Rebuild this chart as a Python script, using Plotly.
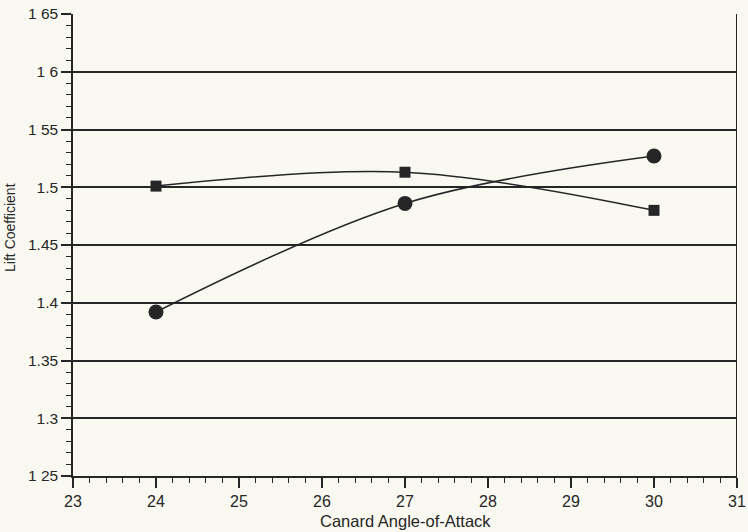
import plotly.graph_objects as go

angles = [24, 27, 30]
lift_square = [1.501, 1.513, 1.480]
lift_circle = [1.392, 1.486, 1.527]
y_tick_vals = [1.25, 1.30, 1.35, 1.40, 1.45, 1.50, 1.55, 1.60, 1.65]
y_tick_text = ["1 25", "1.3", "1.35", "1.4", "1.45", "1.5", "1 55", "1 6", "1 65"]
x_tick_vals = [23, 24, 25, 26, 27, 28, 29, 30, 31]
x_title = "Canard Angle-of-Attack"
y_title = "Lift Coefficient"

ink = "#262626"
bg = "#f9f9f1"
fig = go.Figure()
fig.add_trace(go.Scatter(
    x=angles, y=lift_square, mode="lines+markers",
    line=dict(color=ink, width=1.5, shape="spline", smoothing=1.0),
    marker=dict(symbol="square", size=11, color=ink),
    showlegend=False))
fig.add_trace(go.Scatter(
    x=angles, y=lift_circle, mode="lines+markers",
    line=dict(color=ink, width=1.5, shape="spline", smoothing=1.0),
    marker=dict(symbol="circle", size=15, color=ink),
    showlegend=False))

fig.update_layout(
    width=748, height=532,
    margin=dict(l=73, r=11, t=14, b=56),
    paper_bgcolor=bg, plot_bgcolor=bg,
    font=dict(family="Liberation Sans, Arial, sans-serif", size=15, color=ink),
    xaxis=dict(
        range=[23, 31], tickvals=x_tick_vals, ticks="outside", ticklen=10,
        tickcolor=ink, tickwidth=1.5, showgrid=False, zeroline=False,
        showline=True, linecolor=ink, linewidth=1.5, automargin=False,
        tickfont=dict(size=16),
        minor=dict(dtick=0.2, ticks="outside", ticklen=5, tickcolor=ink, tickwidth=1.2, showgrid=False),
    ),
    yaxis=dict(
        range=[1.25, 1.65], tickvals=y_tick_vals, ticktext=y_tick_text,
        ticks="outside", ticklen=10, tickcolor=ink, tickwidth=1.5,
        showgrid=True, gridcolor=ink, gridwidth=1.5, zeroline=False,
        showline=True, linecolor=ink, linewidth=1.5, automargin=False,
        tickfont=dict(size=15.5),
        minor=dict(dtick=0.01, ticks="outside", ticklen=5, tickcolor=ink, tickwidth=1.2, showgrid=False),
    ),
)
fig.add_shape(type="line", xref="x", yref="paper", x0=31, x1=31, y0=0, y1=1,
              line=dict(color=ink, width=2))
fig.add_annotation(text=x_title, xref="paper", yref="paper", x=0.5, y=-0.097,
                   xanchor="center", yanchor="middle", showarrow=False,
                   font=dict(size=16.5, color=ink))
fig.add_annotation(text=y_title, xref="paper", yref="paper", x=-0.095, y=0.5,
                   yshift=18, xanchor="center", yanchor="middle", showarrow=False,
                   textangle=-90, font=dict(size=14, color=ink))
fig.write_html("out.html", config={"displayModeBar": False},
               post_script="document.body.style.margin='0px';document.body.style.overflow='hidden';")
